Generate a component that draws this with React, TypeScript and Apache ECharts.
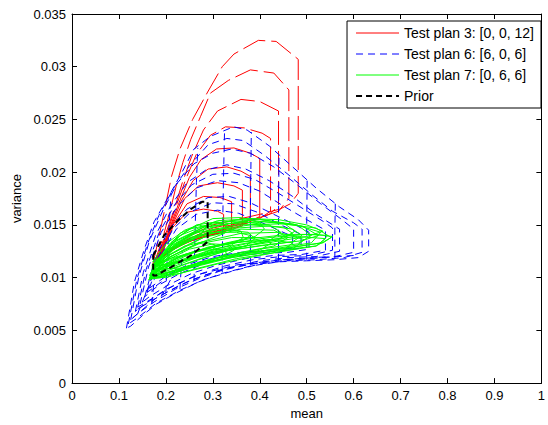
import React, { useEffect, useRef } from "react";
import * as echarts from "echarts";

type Pt = [number, number];

const RED_NAME = "Test plan 3: [0, 0, 12]";
const BLUE_NAME = "Test plan 6: [6, 0, 6]";
const GREEN_NAME = "Test plan 7: [0, 6, 6]";
const PRIOR_NAME = "Prior";

const RED = "#ff0000";
const BLUE = "#0000ff";
const GREEN = "#00ff00";
const BLACK = "#000000";

const xTicks = [0, 0.1, 0.2, 0.3, 0.4, 0.5, 0.6, 0.7, 0.8, 0.9, 1];
const yTicks = [0, 0.005, 0.01, 0.015, 0.02, 0.025, 0.03, 0.035];

// Test plan 3 (red) posterior mean/variance loci
const redCurves: Pt[][] = [
  [[0.190,0.0121],[0.215,0.0148],[0.245,0.0162],[0.280,0.0165],[0.310,0.0163],[0.323,0.0160],[0.323,0.0143],[0.295,0.0140],[0.260,0.0136],[0.225,0.0130],[0.190,0.0121]],
  [[0.188,0.0120],[0.215,0.0150],[0.245,0.0170],[0.280,0.0177],[0.315,0.0176],[0.340,0.0172],[0.340,0.0146],[0.310,0.0142],[0.275,0.0138],[0.240,0.0133],[0.210,0.0126],[0.188,0.0120]],
  [[0.186,0.0119],[0.212,0.0148],[0.240,0.0175],[0.270,0.0187],[0.310,0.0190],[0.345,0.0187],[0.363,0.0183],[0.363,0.0149],[0.335,0.0145],[0.295,0.0141],[0.255,0.0135],[0.220,0.0128],[0.186,0.0119]],
  [[0.184,0.0118],[0.208,0.0145],[0.232,0.0172],[0.258,0.0192],[0.290,0.0203],[0.330,0.0205],[0.360,0.0201],[0.380,0.0196],[0.380,0.0153],[0.350,0.0148],[0.310,0.0144],[0.265,0.0138],[0.225,0.0129],[0.184,0.0118]],
  [[0.182,0.0117],[0.205,0.0143],[0.227,0.0170],[0.250,0.0195],[0.275,0.0212],[0.308,0.0222],[0.345,0.0223],[0.380,0.0218],[0.400,0.0213],[0.400,0.0158],[0.375,0.0152],[0.335,0.0148],[0.290,0.0142],[0.245,0.0134],[0.210,0.0125],[0.182,0.0117]],
  [[0.180,0.0116],[0.203,0.0143],[0.222,0.0168],[0.242,0.0193],[0.265,0.0217],[0.295,0.0235],[0.327,0.0243],[0.367,0.0242],[0.405,0.0237],[0.423,0.0232],[0.423,0.0163],[0.400,0.0156],[0.360,0.0151],[0.310,0.0146],[0.260,0.0138],[0.220,0.0128],[0.180,0.0116]],
  [[0.178,0.0115],[0.200,0.0142],[0.218,0.0165],[0.235,0.0190],[0.255,0.0215],[0.280,0.0240],[0.310,0.0258],[0.360,0.0269],[0.400,0.0267],[0.440,0.0258],[0.440,0.0168],[0.420,0.0160],[0.380,0.0154],[0.330,0.0149],[0.280,0.0143],[0.230,0.0133],[0.200,0.0124],[0.178,0.0115]],
  [[0.175,0.0113],[0.195,0.0140],[0.210,0.0165],[0.222,0.0187],[0.236,0.0209],[0.253,0.0231],[0.274,0.0253],[0.295,0.0275],[0.333,0.0287],[0.380,0.0297],[0.430,0.0294],[0.462,0.0278],[0.462,0.0175],[0.440,0.0163],[0.400,0.0157],[0.350,0.0152],[0.300,0.0147],[0.250,0.0137],[0.205,0.0124],[0.175,0.0113]],
  [[0.172,0.0112],[0.185,0.0138],[0.200,0.0170],[0.212,0.0196],[0.230,0.0222],[0.257,0.0250],[0.289,0.0276],[0.320,0.0300],[0.345,0.0312],[0.397,0.0325],[0.435,0.0324],[0.482,0.0307],[0.482,0.0180],[0.465,0.0170],[0.443,0.0165],[0.400,0.0160],[0.350,0.0155],[0.300,0.0150],[0.250,0.0140],[0.205,0.0125],[0.172,0.0112]],
];

// Test plan 6 (blue) loci
const blueCurves: Pt[][] = [
  [[0.116,0.0052],[0.133,0.0096],[0.154,0.0127],[0.175,0.0153],[0.211,0.0181],[0.238,0.0203],[0.260,0.0222],[0.295,0.0234],[0.344,0.0243],[0.373,0.0240],[0.420,0.0225],[0.470,0.0205],[0.520,0.0185],[0.570,0.0167],[0.610,0.0155],[0.632,0.0145],[0.632,0.0125],[0.610,0.0119],[0.560,0.0117],[0.500,0.0116],[0.440,0.0115],[0.380,0.0111],[0.320,0.0104],[0.270,0.0096],[0.220,0.0085],[0.180,0.0075],[0.150,0.0064],[0.125,0.0054],[0.116,0.0052]],
  [[0.120,0.0056],[0.138,0.0098],[0.160,0.0131],[0.185,0.0159],[0.218,0.0186],[0.250,0.0206],[0.290,0.0226],[0.330,0.0232],[0.365,0.0230],[0.410,0.0216],[0.460,0.0198],[0.510,0.0179],[0.555,0.0163],[0.600,0.0152],[0.618,0.0146],[0.618,0.0124],[0.580,0.0119],[0.520,0.0117],[0.460,0.0116],[0.400,0.0113],[0.340,0.0106],[0.280,0.0098],[0.230,0.0088],[0.180,0.0076],[0.140,0.0062],[0.120,0.0056]],
  [[0.125,0.0060],[0.142,0.0100],[0.165,0.0135],[0.195,0.0165],[0.225,0.0190],[0.260,0.0208],[0.300,0.0218],[0.340,0.0222],[0.380,0.0218],[0.430,0.0205],[0.480,0.0188],[0.530,0.0170],[0.575,0.0155],[0.600,0.0146],[0.600,0.0124],[0.560,0.0120],[0.500,0.0118],[0.440,0.0117],[0.380,0.0113],[0.320,0.0107],[0.270,0.0099],[0.220,0.0089],[0.175,0.0077],[0.140,0.0066],[0.125,0.0060]],
  [[0.135,0.0068],[0.152,0.0105],[0.178,0.0140],[0.210,0.0168],[0.245,0.0190],[0.285,0.0202],[0.330,0.0207],[0.370,0.0203],[0.420,0.0192],[0.470,0.0177],[0.520,0.0160],[0.570,0.0146],[0.570,0.0125],[0.520,0.0120],[0.460,0.0119],[0.400,0.0116],[0.340,0.0110],[0.280,0.0102],[0.230,0.0093],[0.185,0.0082],[0.150,0.0073],[0.135,0.0068]],
  [[0.140,0.0072],[0.158,0.0108],[0.185,0.0142],[0.220,0.0170],[0.255,0.0188],[0.300,0.0198],[0.345,0.0199],[0.390,0.0193],[0.440,0.0180],[0.490,0.0166],[0.540,0.0152],[0.555,0.0147],[0.555,0.0126],[0.505,0.0121],[0.445,0.0120],[0.385,0.0117],[0.325,0.0111],[0.270,0.0103],[0.215,0.0092],[0.170,0.0080],[0.140,0.0072]],
  [[0.145,0.0075],[0.163,0.0110],[0.190,0.0143],[0.225,0.0168],[0.265,0.0185],[0.310,0.0192],[0.355,0.0190],[0.400,0.0182],[0.450,0.0168],[0.500,0.0155],[0.540,0.0145],[0.540,0.0126],[0.490,0.0122],[0.430,0.0121],[0.370,0.0118],[0.310,0.0112],[0.255,0.0104],[0.205,0.0093],[0.165,0.0082],[0.145,0.0075]],
  [[0.155,0.0082],[0.175,0.0115],[0.205,0.0145],[0.245,0.0165],[0.290,0.0176],[0.335,0.0177],[0.380,0.0171],[0.430,0.0160],[0.480,0.0149],[0.505,0.0143],[0.505,0.0127],[0.460,0.0124],[0.400,0.0123],[0.340,0.0120],[0.280,0.0113],[0.230,0.0104],[0.185,0.0093],[0.155,0.0082]],
  [[0.160,0.0086],[0.182,0.0118],[0.215,0.0146],[0.255,0.0163],[0.300,0.0171],[0.345,0.0170],[0.395,0.0162],[0.445,0.0150],[0.488,0.0141],[0.488,0.0128],[0.440,0.0125],[0.380,0.0124],[0.320,0.0121],[0.265,0.0114],[0.215,0.0104],[0.160,0.0086]],
  [[0.165,0.0090],[0.188,0.0120],[0.222,0.0146],[0.265,0.0160],[0.310,0.0164],[0.355,0.0161],[0.405,0.0152],[0.455,0.0142],[0.470,0.0139],[0.470,0.0128],[0.420,0.0126],[0.360,0.0124],[0.300,0.0120],[0.250,0.0113],[0.205,0.0103],[0.165,0.0090]],
  [[0.130,0.0062],[0.180,0.0081],[0.250,0.0097],[0.320,0.0108],[0.400,0.0114],[0.500,0.0118],[0.600,0.0121]],
  [[0.140,0.0070],[0.200,0.0089],[0.270,0.0103],[0.350,0.0112],[0.450,0.0117],[0.550,0.0120]],
  [[0.140,0.0066],[0.160,0.0088],[0.175,0.0105]],
  [[0.190,0.0082],[0.210,0.0098],[0.225,0.0112]],
  [[0.170,0.0075],[0.175,0.0098],[0.180,0.0120]],
  [[0.230,0.0089],[0.232,0.0105],[0.235,0.0125]],
  [[0.200,0.0086],[0.203,0.0120],[0.207,0.0150],[0.211,0.0180]],
  [[0.260,0.0097],[0.262,0.0140],[0.265,0.0190],[0.268,0.0223]],
  [[0.320,0.0105],[0.321,0.0150],[0.323,0.0200],[0.325,0.0239]],
  [[0.380,0.0112],[0.380,0.0160],[0.381,0.0200],[0.382,0.0238]],
  [[0.440,0.0116],[0.440,0.0160],[0.441,0.0217]],
  [[0.500,0.0117],[0.500,0.0150],[0.501,0.0193]],
  [[0.560,0.0118],[0.560,0.0145],[0.561,0.0170]],
];

// Test plan 7 (green) loci
const greenCurves: Pt[][] = [
  [[0.165,0.0102],[0.200,0.0125],[0.260,0.0142],[0.350,0.0150],[0.450,0.0151],[0.520,0.0147],[0.552,0.0138],[0.520,0.0130],[0.450,0.0125],[0.350,0.0118],[0.260,0.0108],[0.200,0.0100],[0.165,0.0102]],
  [[0.168,0.0104],[0.210,0.0130],[0.280,0.0148],[0.380,0.0154],[0.470,0.0151],[0.530,0.0143],[0.510,0.0133],[0.440,0.0128],[0.350,0.0121],[0.270,0.0112],[0.210,0.0103],[0.168,0.0104]],
  [[0.170,0.0108],[0.220,0.0135],[0.300,0.0152],[0.400,0.0155],[0.480,0.0150],[0.510,0.0140],[0.480,0.0132],[0.400,0.0127],[0.310,0.0119],[0.230,0.0109],[0.170,0.0108]],
  [[0.165,0.0100],[0.200,0.0118],[0.270,0.0133],[0.360,0.0142],[0.440,0.0143],[0.495,0.0136],[0.470,0.0127],[0.400,0.0121],[0.310,0.0113],[0.230,0.0104],[0.165,0.0100]],
  [[0.172,0.0110],[0.230,0.0140],[0.310,0.0154],[0.390,0.0156],[0.450,0.0152],[0.475,0.0144],[0.450,0.0137],[0.380,0.0131],[0.300,0.0124],[0.230,0.0115],[0.172,0.0110]],
  [[0.166,0.0101],[0.210,0.0122],[0.280,0.0138],[0.360,0.0146],[0.430,0.0145],[0.460,0.0138],[0.430,0.0130],[0.360,0.0124],[0.280,0.0115],[0.210,0.0106],[0.166,0.0101]],
  [[0.170,0.0106],[0.220,0.0132],[0.290,0.0148],[0.360,0.0153],[0.420,0.0150],[0.445,0.0143],[0.420,0.0135],[0.350,0.0128],[0.280,0.0119],[0.215,0.0109],[0.170,0.0106]],
  [[0.168,0.0103],[0.210,0.0120],[0.270,0.0132],[0.340,0.0138],[0.400,0.0138],[0.425,0.0133],[0.400,0.0126],[0.330,0.0119],[0.260,0.0111],[0.200,0.0104],[0.168,0.0103]],
  [[0.174,0.0112],[0.230,0.0142],[0.300,0.0156],[0.360,0.0157],[0.400,0.0152],[0.410,0.0146],[0.390,0.0139],[0.330,0.0133],[0.260,0.0125],[0.210,0.0117],[0.174,0.0112]],
  [[0.167,0.0102],[0.210,0.0125],[0.270,0.0140],[0.330,0.0145],[0.375,0.0143],[0.390,0.0137],[0.370,0.0130],[0.310,0.0123],[0.250,0.0114],[0.200,0.0106],[0.167,0.0102]],
  [[0.170,0.0107],[0.220,0.0130],[0.280,0.0143],[0.330,0.0147],[0.360,0.0144],[0.365,0.0138],[0.340,0.0131],[0.290,0.0125],[0.235,0.0116],[0.195,0.0110],[0.170,0.0107]],
  [[0.166,0.0100],[0.200,0.0116],[0.250,0.0127],[0.300,0.0132],[0.335,0.0131],[0.345,0.0126],[0.320,0.0120],[0.270,0.0114],[0.220,0.0107],[0.185,0.0101],[0.166,0.0100]],
  [[0.172,0.0109],[0.215,0.0135],[0.265,0.0150],[0.310,0.0153],[0.330,0.0149],[0.325,0.0142],[0.290,0.0136],[0.240,0.0127],[0.200,0.0117],[0.172,0.0109]],
  [[0.168,0.0104],[0.200,0.0120],[0.240,0.0130],[0.280,0.0134],[0.305,0.0131],[0.300,0.0125],[0.265,0.0119],[0.225,0.0112],[0.190,0.0106],[0.168,0.0104]],
  [[0.175,0.0113],[0.210,0.0133],[0.250,0.0146],[0.290,0.0150],[0.300,0.0146],[0.285,0.0139],[0.250,0.0132],[0.210,0.0122],[0.175,0.0113]],
  [[0.165,0.0099],[0.220,0.0115],[0.300,0.0127],[0.400,0.0135],[0.480,0.0139],[0.540,0.0137],[0.520,0.0130],[0.440,0.0126],[0.340,0.0119],[0.250,0.0109],[0.190,0.0100],[0.165,0.0099]],
  [[0.163,0.0098],[0.190,0.0110],[0.240,0.0122],[0.320,0.0131],[0.420,0.0138],[0.500,0.0141],[0.545,0.0140],[0.530,0.0133],[0.460,0.0128],[0.360,0.0122],[0.270,0.0113],[0.200,0.0102],[0.163,0.0098]],
  [[0.166,0.0103],[0.205,0.0127],[0.260,0.0143],[0.330,0.0151],[0.410,0.0153],[0.490,0.0149],[0.525,0.0140],[0.490,0.0135],[0.410,0.0131],[0.320,0.0125],[0.240,0.0116],[0.190,0.0108],[0.166,0.0103]],
  [[0.170,0.0110],[0.210,0.0128],[0.280,0.0140],[0.350,0.0147],[0.420,0.0149],[0.470,0.0146],[0.490,0.0140],[0.470,0.0134],[0.400,0.0130],[0.320,0.0125],[0.250,0.0118],[0.200,0.0113],[0.170,0.0110]],
  [[0.164,0.0099],[0.200,0.0112],[0.260,0.0124],[0.340,0.0133],[0.420,0.0136],[0.470,0.0133],[0.450,0.0126],[0.380,0.0122],[0.300,0.0116],[0.230,0.0107],[0.190,0.0100],[0.164,0.0099]],
  [[0.168,0.0105],[0.215,0.0133],[0.290,0.0150],[0.370,0.0156],[0.440,0.0155],[0.500,0.0150],[0.535,0.0144],[0.500,0.0139],[0.430,0.0134],[0.340,0.0128],[0.260,0.0120],[0.205,0.0112],[0.168,0.0105]],
  [[0.170,0.0112],[0.200,0.0125],[0.250,0.0138],[0.300,0.0143],[0.350,0.0143],[0.380,0.0140],[0.360,0.0134],[0.300,0.0129],[0.240,0.0122],[0.200,0.0117],[0.170,0.0112]],
  [[0.166,0.0101],[0.190,0.0111],[0.230,0.0120],[0.280,0.0126],[0.320,0.0127],[0.330,0.0123],[0.300,0.0117],[0.250,0.0111],[0.200,0.0104],[0.166,0.0101]],
  [[0.172,0.0115],[0.200,0.0132],[0.240,0.0145],[0.270,0.0150],[0.285,0.0148],[0.275,0.0141],[0.240,0.0134],[0.200,0.0123],[0.172,0.0115]],
  [[0.167,0.0100],[0.210,0.0116],[0.290,0.0129],[0.380,0.0137],[0.460,0.0141],[0.520,0.0141],[0.555,0.0139],[0.535,0.0133],[0.470,0.0129],[0.380,0.0124],[0.290,0.0117],[0.220,0.0107],[0.167,0.0100]],
  [[0.169,0.0106],[0.220,0.0128],[0.300,0.0145],[0.380,0.0150],[0.450,0.0148],[0.470,0.0142],[0.440,0.0137],[0.370,0.0132],[0.290,0.0124],[0.220,0.0114],[0.169,0.0106]],
];

// Prior region
const priorCurve: Pt[] = [
  [0.173,0.0121],[0.196,0.0140],[0.225,0.0154],[0.253,0.0165],[0.278,0.0172],[0.289,0.0172],
  [0.289,0.0134],[0.253,0.0121],[0.211,0.0110],[0.179,0.0102],[0.173,0.0102],[0.173,0.0121],
];

const FONT = "'Liberation Sans', Arial, sans-serif";

function fmt(v: number): string {
  return String(parseFloat(v.toFixed(3)));
}

export default function App() {
  const ref = useRef<HTMLDivElement>(null);
  useEffect(() => {
    if (!ref.current) return;
    const chart = echarts.init(ref.current, undefined, { renderer: "svg" });

    const lineBase = { type: "line" as const, showSymbol: false, symbol: "none", smooth: false, silent: true, animation: false };

    const series: any[] = [];
    const nRed = redCurves.length;
    redCurves.forEach((d, i) => {
      series.push({
        ...lineBase,
        name: RED_NAME,
        color: RED,
        itemStyle: { color: RED },
        data: d,
        lineStyle: { color: RED, width: 1, type: i >= nRed - 4 ? [24, 6] : "solid" },
      });
    });
    blueCurves.forEach((d) => {
      series.push({
        ...lineBase,
        name: BLUE_NAME,
        color: BLUE,
        itemStyle: { color: BLUE },
        data: d,
        lineStyle: { color: BLUE, width: 1, type: [7, 5] },
      });
    });
    greenCurves.forEach((d) => {
      series.push({
        ...lineBase,
        name: GREEN_NAME,
        color: GREEN,
        itemStyle: { color: GREEN },
        data: d,
        lineStyle: { color: GREEN, width: 1, type: "solid" },
      });
    });
    series.push({
      ...lineBase,
      name: PRIOR_NAME,
      color: BLACK,
      itemStyle: { color: BLACK },
      data: priorCurve,
      lineStyle: { color: BLACK, width: 2, type: [6, 4] },
    });

    const axisCommon = {
      type: "value" as const,
      axisLine: { show: true, onZero: false, lineStyle: { color: "#000", width: 1 } },
      axisTick: { show: true, inside: true, length: 5, lineStyle: { color: "#000" } },
      splitLine: { show: false },
    };

    const legendItems = [
      { name: RED_NAME, color: RED, width: 1, type: "solid" as any },
      { name: BLUE_NAME, color: BLUE, width: 1, type: [7, 5] as any },
      { name: GREEN_NAME, color: GREEN, width: 1, type: "solid" as any },
      { name: PRIOR_NAME, color: BLACK, width: 2, type: [6, 4] as any },
    ];

    chart.setOption({
      animation: false,
      backgroundColor: "#ffffff",
      grid: { left: 72, right: 3, top: 14, bottom: 40, containLabel: false },
      legend: {
        right: 7,
        top: 21,
        orient: "vertical",
        selectedMode: false,
        backgroundColor: "#ffffff",
        borderColor: "#000",
        borderWidth: 1,
        borderRadius: 0,
        padding: [5, 7, 5, 8],
        itemWidth: 43,
        itemHeight: 14,
        itemGap: 7,
        textStyle: { fontSize: 14, lineHeight: 14, fontFamily: FONT, color: "#000" },
        data: legendItems.map((d) => ({
          name: d.name,
          itemStyle: { opacity: 0 },
          lineStyle: { color: d.color, width: d.width, type: d.type, opacity: 1 },
        })),
      },
      xAxis: [
        {
          ...axisCommon,
          position: "bottom",
          min: xTicks[0],
          max: xTicks[xTicks.length - 1],
          interval: 0.1,
          name: "mean",
          nameLocation: "middle",
          nameGap: 22,
          nameTextStyle: { fontSize: 13, fontFamily: FONT, color: "#000" },
          axisLabel: { fontSize: 13, fontFamily: FONT, color: "#000", margin: 6, formatter: (v: number) => fmt(v) },
        },
        {
          ...axisCommon,
          position: "top",
          min: xTicks[0],
          max: xTicks[xTicks.length - 1],
          interval: 0.1,
          axisLabel: { show: false },
        },
      ],
      yAxis: [
        {
          ...axisCommon,
          position: "left",
          min: yTicks[0],
          max: yTicks[yTicks.length - 1],
          interval: 0.005,
          name: "variance",
          nameLocation: "middle",
          nameGap: 46,
          nameTextStyle: { fontSize: 13, fontFamily: FONT, color: "#000" },
          axisLabel: { fontSize: 13, fontFamily: FONT, color: "#000", margin: 6, formatter: (v: number) => fmt(v) },
        },
        {
          ...axisCommon,
          position: "right",
          min: yTicks[0],
          max: yTicks[yTicks.length - 1],
          interval: 0.005,
          axisLabel: { show: false },
        },
      ],
      series,
    });
    return () => chart.dispose();
  }, []);
  return <div ref={ref} style={{ position: "fixed", left: 0, top: 0, width: 548, height: 425 }} />;
}
